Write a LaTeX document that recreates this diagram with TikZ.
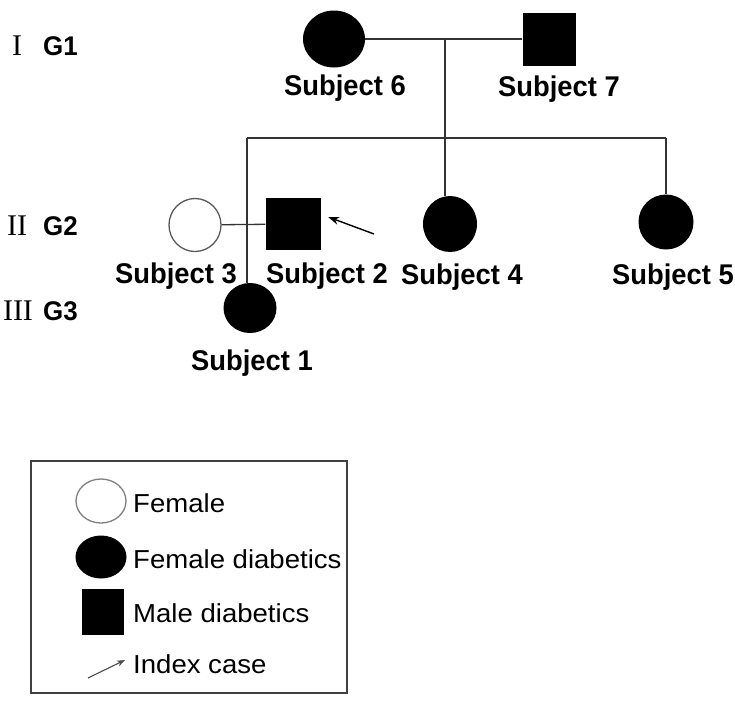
\documentclass[tikz,border=0pt]{standalone}
\usepackage{fontspec}
\newfontfamily\subjfont[FakeStretch=0.96]{Liberation Sans}
\newfontfamily\legfont[FakeStretch=1.06]{Liberation Sans}
\newfontfamily\romfont{Liberation Serif}
\usepackage{tikz}
\usetikzlibrary{shapes.geometric, arrows.meta}

\tikzset{
	affected/.style={ellipse, fill=black, inner sep=0pt, minimum width=54pt, minimum height=56pt},
	healthy/.style={ellipse, draw=black!65, line width=1.3pt, fill=white, inner sep=0pt, minimum width=52pt, minimum height=53pt},
	male/.style={rectangle, fill=black, inner sep=0pt, minimum width=54pt, minimum height=53pt},
	subj/.style={font=\subjfont\bfseries\fontsize{28.5}{30}\selectfont, anchor=base, inner sep=0pt},
	gen/.style={font=\subjfont\bfseries\fontsize{27}{30}\selectfont, anchor=base west, inner sep=0pt},
	roman/.style={font=\romfont\fontsize{30}{32}\selectfont, anchor=base, inner sep=0pt},
	legtext/.style={font=\legfont\fontsize{26}{28}\selectfont, anchor=base west, inner sep=0pt},
	pline/.style={draw=black!80, line width=1.3pt}
}

\begin{document}
\begin{tikzpicture}[x=1pt, y=-1pt]

		\useasboundingbox[fill=white] (0,0) rectangle (735,710);

		\node[affected, minimum width=62pt, minimum height=57pt] (sub6) at (334,39) {};
		\node[male, minimum width=53pt] (sub7) at (549,39) {};
		\node[healthy] (sub3) at (195,225) {};
		\node[male, minimum width=55pt, minimum height=52pt] (sub2) at (293,224) {};
		\node[affected] (sub4) at (450,224) {};
		\node[affected, minimum width=55pt, minimum height=55pt] (sub5) at (666,222) {};
		\node[affected, minimum width=53pt, minimum height=50pt] (sub1) at (250,308) {};

		\node[subj] (lab6) at (345,95.7) {Subject 6};
		\node[subj] (lab7) at (559,96) {Subject 7};
		\node[subj] (lab3) at (176,283) {Subject 3};
		\node[subj] (lab2) at (327,283) {Subject 2};
		\node[subj] (lab4) at (462,284) {Subject 4};
		\node[subj] (lab5) at (673,284) {Subject 5};
		\node[subj] (lab1) at (252,370) {Subject 1};

		\node[roman] (rom1) at (17,55) {I};
		\node[roman] (rom2) at (17,235) {II};
		\node[roman] (rom3) at (18,320) {III};
		\node[gen] (gen1) at (43,55) {G1};
		\node[gen] (gen2) at (43,235) {G2};
		\node[gen] (gen3) at (43,320) {G3};

		\coordinate (mate1) at (445,39);
		\coordinate (sibM) at (445,138);
		\coordinate (sibL) at (247,138);
		\coordinate (sibR) at (666,138);

		\draw[pline] (sub6) -- (sub7);
		\draw[pline] (mate1) -- (sibM);
		\draw[pline] (sibL) -- (sibR);
		\draw[pline] (sibM) -- (sibM |- sub4.north);
		\draw[pline] (sibR) -- (sub5.north);
		\draw[pline] (sub3) -- (sub2);
		\draw[pline] (sibL) -- (sibL |- sub1.north);

		\coordinate (idx) at (374,234);
		\draw[arrows=-{Stealth[length=11pt, width=8pt]}, line width=1.4pt] (idx) -- ([xshift=7.5pt, yshift=7pt]sub2.east);

		\node[draw=black!75, line width=1.3pt, minimum width=316pt, minimum height=232pt, inner sep=0pt] (legend) at (189,577) {};
		\node[healthy, draw=black!50, minimum width=50pt, minimum height=44pt] (legF) at (101,501) {};
		\node[affected, minimum width=51pt, minimum height=43pt] (legFD) at (101,557) {};
		\node[male, minimum width=42pt, minimum height=46pt] (legM) at (103,612) {};
		\coordinate (legtail) at (88,678);
		\coordinate (leghead) at (125,660);
		\draw[arrows=-{Stealth[length=8pt, width=6pt]}, draw=black!70, fill=black!70, line width=1.1pt] (legtail) -- (leghead);

		\node[legtext] (txtF) at (133,512) {Female};
		\node[legtext] (txtFD) at (133,568) {Female diabetics};
		\node[legtext] (txtM) at (133,622) {Male diabetics};
		\node[legtext] (txtI) at (133,673) {Index case};
	\end{tikzpicture}
\end{document}
